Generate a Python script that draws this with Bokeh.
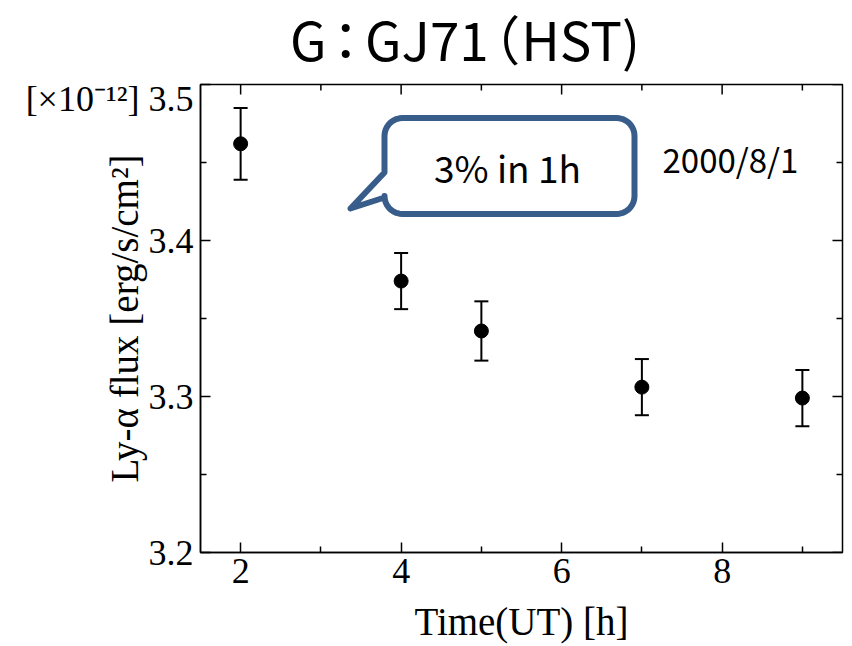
import numpy as np
from bokeh.plotting import figure
from bokeh.layouts import column
from bokeh.models import (Range1d, LinearAxis, FixedTicker, Whisker, TeeHead,
                          ColumnDataSource, Label, Div)
from bokeh.embed import file_html
from bokeh.resources import INLINE

# Ly-alpha flux of GJ 71 (HST, 2000/8/1), units of 1e-12 erg/s/cm^2
time_ut = [2, 4, 5, 7, 9]
flux = [3.462, 3.374, 3.342, 3.306, 3.299]
flux_err = [0.023, 0.018, 0.019, 0.018, 0.018]

x_ticks = [2, 4, 6, 8]
y_ticks = [3.2, 3.3, 3.4, 3.5]

title_parts = ["G", "：", "GJ71", "（", "HST)"]
date_text = "2000/8/1"
callout_text = "3% in 1h"
x_label = "Time(UT) [h]"
y_label = "Ly-α flux [erg/s/cm²]"
y_exponent = "[×10⁻¹²]"

X0, X1 = 1.5, 9.5
Y0, Y1 = 3.2, 3.5

W, H = 852, 646
TITLE_H = 78
LEFT, RIGHT, TOP, BOTTOM = 200, 10, 84, 94
FW = W - LEFT - RIGHT
FH = H - TOP - BOTTOM

SERIF = "Liberation Serif"
SANS = "Noto Sans CJK JP"
BLUE = "#385D8A"

MAJOR_LEN, MINOR_LEN = 10, 6


def cx(xp):
    """page pixel column -> data x"""
    return X0 + (xp - LEFT) * (X1 - X0) / FW


def cy(yp):
    """page pixel row -> data y"""
    return Y1 - (yp - TOP) * (Y1 - Y0) / FH


# title: the full-width punctuation gets a little air on both sides
g, colon, star, paren, rest = title_parts
title_html = (f'{g}<span style="margin:0 6px">{colon}</span>{star}'
              f'<span style="margin:0 3px">{paren}</span>{rest}')
title = Div(text=title_html, width=W, height=TITLE_H, margin=(0, 0, 0, 0),
            styles={"font-family": SANS, "font-size": "53px", "line-height": "77px",
                    "color": "black", "text-indent": "290px", "white-space": "nowrap",
                    "font-feature-settings": "'palt' 1"})

p = figure(width=W, height=H - TITLE_H, x_range=Range1d(X0, X1), y_range=Range1d(Y0, Y1),
           output_backend="svg", toolbar_location=None,
           x_axis_type=None, y_axis_type=None, margin=(0, 0, 0, 0),
           min_border_left=LEFT, min_border_right=RIGHT,
           min_border_top=TOP - TITLE_H, min_border_bottom=BOTTOM)
p.outline_line_color = "black"
p.outline_line_width = 1.5
p.xgrid.visible = False
p.ygrid.visible = False
p.background_fill_color = "white"
p.border_fill_color = "white"

x_minor = list((np.array(x_ticks[:-1]) + np.array(x_ticks[1:])) / 2) + [x_ticks[-1] + 1]
y_minor = list((np.array(y_ticks[:-1]) + np.array(y_ticks[1:])) / 2)
xticker = FixedTicker(ticks=x_ticks, minor_ticks=x_minor)
yticker = FixedTicker(ticks=y_ticks, minor_ticks=y_minor)


def style_axis(ax):
    ax.axis_line_color = "black"
    ax.axis_line_width = 1.5
    ax.major_tick_line_color = "black"
    ax.major_tick_line_width = 1.5
    ax.minor_tick_line_color = "black"
    ax.minor_tick_line_width = 1.5
    ax.major_tick_in = MAJOR_LEN
    ax.major_tick_out = 0
    ax.minor_tick_in = MINOR_LEN
    ax.minor_tick_out = 0
    ax.major_label_text_font = SERIF
    ax.major_label_text_font_size = "36px"
    ax.major_label_text_color = "black"
    ax.axis_label_text_font = SERIF
    ax.axis_label_text_font_size = "39px"
    ax.axis_label_text_font_style = "normal"
    ax.axis_label_text_color = "black"


xb = LinearAxis(ticker=xticker, axis_label=x_label)
style_axis(xb)
xb.major_label_standoff = 6
xb.axis_label_standoff = 14
p.add_layout(xb, "below")

yl = LinearAxis(ticker=yticker, axis_label=y_label)
style_axis(yl)
yl.major_label_standoff = 7
# pull the axis title in beside the tick values (the wide top label sits above it)
yl.axis_label_standoff = -123
# the axis multiplier sits in front of the top tick value
yl.major_label_overrides = {y_ticks[-1]: y_exponent + " " + str(y_ticks[-1])}
p.add_layout(yl, "left")

# mirrored inward ticks on the top and right edges of the frame
dx = (X1 - X0) / FW
dy = (Y1 - Y0) / FH
top_x = list(x_ticks) + list(x_minor)
top_len = [MAJOR_LEN] * len(x_ticks) + [MINOR_LEN] * len(x_minor)
p.segment(x0=top_x, y0=[Y1] * len(top_x), x1=top_x,
          y1=[Y1 - L * dy for L in top_len], line_color="black", line_width=1.5)
right_y = list(y_ticks) + list(y_minor)
right_len = [MAJOR_LEN] * len(y_ticks) + [MINOR_LEN] * len(y_minor)
p.segment(x0=[X1] * len(right_y), y0=right_y, x1=[X1 - L * dx for L in right_len],
          y1=right_y, line_color="black", line_width=1.5)

# measurements with error bars
src = ColumnDataSource(dict(
    x=time_ut, y=flux,
    lower=[f - e for f, e in zip(flux, flux_err)],
    upper=[f + e for f, e in zip(flux, flux_err)],
))
p.add_layout(Whisker(source=src, base="x", lower="lower", upper="upper",
                     line_color="black", line_width=2,
                     lower_head=TeeHead(size=14, line_color="black", line_width=2),
                     upper_head=TeeHead(size=14, line_color="black", line_width=2)))
p.scatter("x", "y", source=src, size=14, color="black")


# speech-bubble callout, outline built in pixel space
def callout_path(left, top, right, bottom, r, tip, base_top, base_bottom, n=10):
    pts = [(left, base_top)]
    corners = [((left + r, top + r), np.pi, 1.5 * np.pi),
               ((right - r, top + r), 1.5 * np.pi, 2 * np.pi),
               ((right - r, bottom - r), 0.0, 0.5 * np.pi),
               ((left + r, bottom - r), 0.5 * np.pi, np.pi)]
    for (ccx, ccy), a0, a1 in corners:
        for t in np.linspace(a0, a1, n):
            pts.append((ccx + r * np.cos(t), ccy + r * np.sin(t)))
    pts.append((left, base_bottom))
    pts.append(tip)
    xs = [cx(a) for a, b in pts]
    ys = [cy(b) for a, b in pts]
    return xs, ys


bx, by = callout_path(384, 117.5, 634, 213.5, 18, (350, 208), 172, 197)
p.patch(bx, by, fill_color="white", line_color=BLUE, line_width=6, line_join="round")

p.add_layout(Label(x=cx(507), y=cy(166), text=callout_text, text_align="center",
                   text_baseline="middle", text_font=SANS, text_font_size="37px",
                   text_color="black"))
p.add_layout(Label(x=cx(662), y=cy(158), text=date_text, text_align="left",
                   text_baseline="alphabetic", text_font=SANS, text_font_size="33px",
                   text_color="black"))

open("out.html", "w").write(file_html(column(title, p, spacing=0), INLINE))
